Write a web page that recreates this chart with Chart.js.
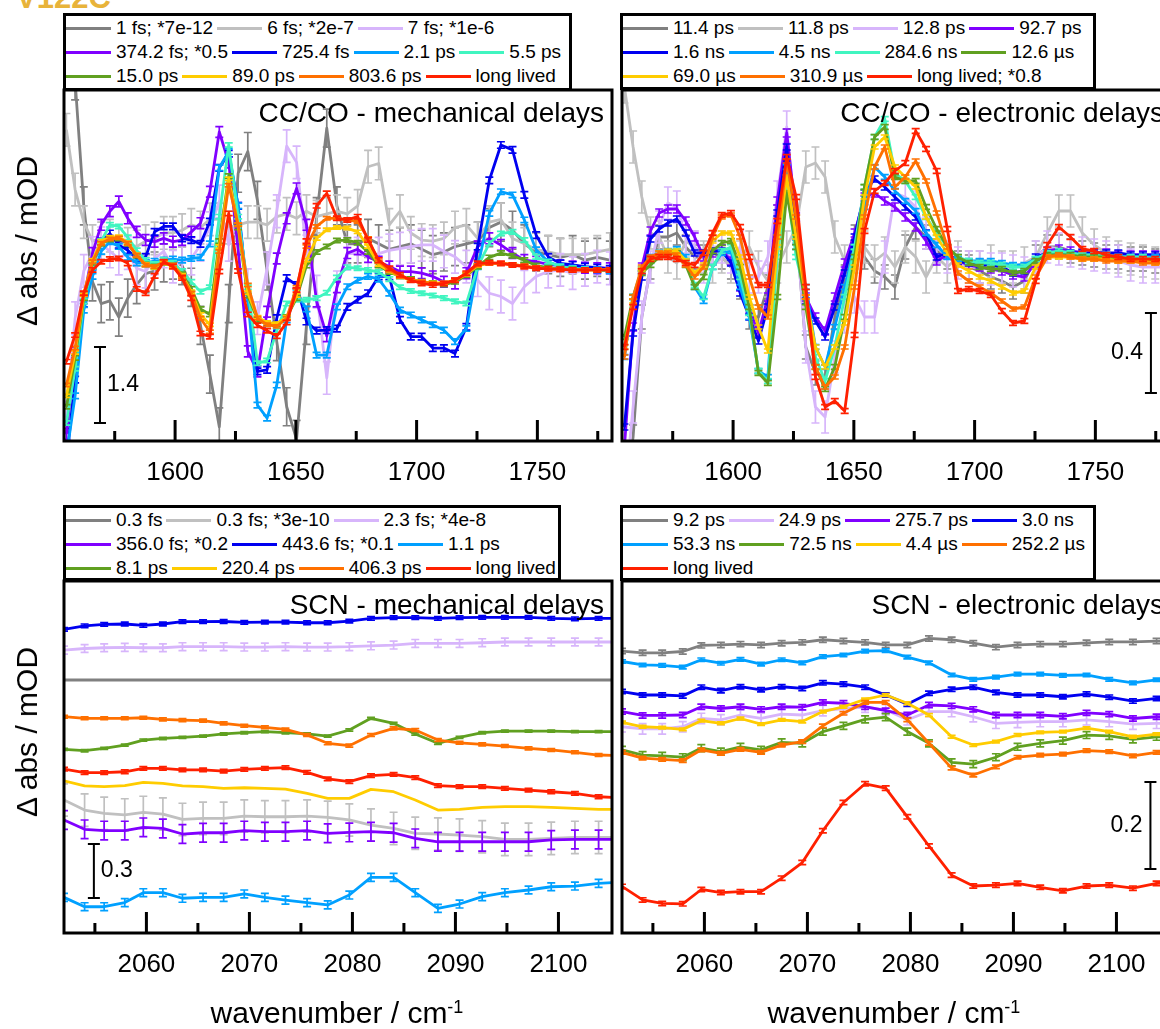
<!DOCTYPE html>
<html>
<head>
<meta charset="utf-8">
<title>V122C transient IR spectra</title>
<script src="https://cdn.jsdelivr.net/npm/chart.js@4.4.1/dist/chart.umd.min.js"></script>
<style>
  html, body { margin: 0; padding: 0; background: #fff; }
  body { width: 1160px; height: 1029px; overflow: hidden; position: relative;
         font-family: "Liberation Sans", Arial, sans-serif; color: #000; }
  canvas.panel { position: absolute; }
  .legend { position: absolute; box-sizing: border-box; border: 3px solid #000; background: #fff;
            font-size: 19px; line-height: 24px; z-index: 2; }
  .legend .row { display: flex; white-space: nowrap; height: 24px; }
  .legend .item { display: flex; align-items: center; margin-right: 4px; }
  .legend .swatch { width: 45px; height: 3px; margin-right: 5px; }
  .ytitle { position: absolute; font-size: 30px; white-space: nowrap; line-height: 34px;
            transform: translate(-50%, -50%) rotate(-90deg); }
  .xtitle { position: absolute; font-size: 30px; white-space: nowrap; line-height: 34px;
            transform: translateX(-50%); }
  .xtitle sup { font-size: 18px; vertical-align: 10px; line-height: 0; }
  .tag { position: absolute; left: 16px; top: -18px; font-size: 31px; line-height: 31px;
         font-weight: bold; color: #e8b33a; }
</style>
</head>
<body>
<div class="tag">V122C</div>

<canvas id="ccMech"  class="panel" width="620" height="500" style="left:0;top:0"></canvas>
<canvas id="ccElec"  class="panel" width="620" height="500" style="left:558px;top:0"></canvas>
<canvas id="scnMech" class="panel" width="620" height="539" style="left:0;top:490px"></canvas>
<canvas id="scnElec" class="panel" width="620" height="539" style="left:558px;top:490px"></canvas>

<div class="legend" id="legCcMech"  style="left:63px;top:13px;width:509px;height:78px"></div>
<div class="legend" id="legCcElec"  style="left:620px;top:13px;width:476px;height:77px"></div>
<div class="legend" id="legScnMech" style="left:63px;top:505px;width:498px;height:76px"></div>
<div class="legend" id="legScnElec" style="left:620px;top:505px;width:476px;height:76px"></div>

<div class="ytitle" style="left:27px;top:241px">&Delta; abs / mOD</div>
<div class="ytitle" style="left:27px;top:732px">&Delta; abs / mOD</div>
<div class="xtitle" style="left:337px;top:996px">wavenumber / cm<sup>-1</sup></div>
<div class="xtitle" style="left:894px;top:996px">wavenumber / cm<sup>-1</sup></div>

<script>
// ---------- colours ----------
const GRAY = '#808080', SILVER = '#c0c0c0', LAVENDER = '#d7b5fb', VIOLET = '#8000ff',
      BLUE = '#0000f0', SKY = '#00a0ff', AQUA = '#40f5c0', GREEN = '#60a020',
      GOLD = '#ffcc00', ORANGE = '#ff7000', RED = '#ff2000';
const FONT = '"Liberation Sans", Arial, sans-serif';

// ---------- wavenumber grids (cm-1) ----------
const ccWavenumbers = [1555.0, 1558.6, 1562.2, 1565.8, 1569.4, 1573.0, 1576.7, 1580.4, 1584.1, 1587.8,
  1591.5, 1595.3, 1599.1, 1602.9, 1606.7, 1610.5, 1614.4, 1618.3, 1622.2, 1626.1,
  1630.1, 1634.1, 1638.1, 1642.1, 1646.2, 1650.3, 1654.4, 1658.6, 1662.8, 1667.0,
  1671.3, 1675.6, 1679.9, 1684.3, 1688.7, 1693.1, 1697.6, 1702.1, 1706.7, 1711.3,
  1715.9, 1720.6, 1725.3, 1730.1, 1734.9, 1739.7, 1744.6, 1749.5, 1754.5, 1759.5,
  1764.6, 1769.7, 1774.8, 1780.0];
const scnWavenumbers = [2052.0, 2054.0, 2055.9, 2057.9, 2059.7, 2061.6, 2063.5, 2065.5, 2067.5, 2069.5,
  2071.5, 2073.5, 2075.6, 2077.6, 2079.7, 2081.8, 2084.0, 2086.1, 2088.3, 2090.4,
  2092.6, 2094.8, 2097.1, 2099.3, 2101.6, 2103.9, 2106.2];

// ---------- axis ticks ----------
const ccMajorTicks = [1600, 1650, 1700, 1750];
const ccMinorTicks = [1575, 1625, 1675, 1725, 1775];
const scnMajorTicks = [2060, 2070, 2080, 2090, 2100];
const scnMinorTicks = [2055, 2065, 2075, 2085, 2095];

// ---------- CC/CO, mechanical delays (mOD) ----------
const ccMech_1fs = [6.0, 3.5, 1.2, -0.2, -0.6, -0.55, -0.85, -0.5, -0.25, -0.05, 0.0, 0.15, 0.2, 0.1, -0.3, -1.0, -1.9, -2.87, -0.6, 1.8, 2.2, 1.3, 0.0, -1.3, -2.5, -3.1, -1.0, 1.0, 2.63, 1.2, 0.5, 0.5, 0.6, 0.5, 0.4, 0.45, 0.5, 0.4, 0.3, 0.35, 0.45, 0.5, 0.55, 0.8, 0.9, 0.75, 0.5, 0.35, 0.3, 0.25, 0.3, 0.2, 0.25, 0.2];
const ccMech_6fs = [2.6, 1.5, 0.9, 0.55, 0.6, 0.65, 0.55, 0.5, 0.45, 0.55, 0.6, 0.7, 0.7, 0.75, 0.85, 0.8, 0.95, 0.95, 0.8, 0.85, 0.9, 0.9, 0.85, 1.0, 1.05, 0.97, 1.1, 1.0, 1.05, 1.1, 1.05, 1.2, 1.92, 1.98, 0.85, 1.1, 0.7, 0.57, 0.55, 0.6, 0.8, 0.85, 0.6, 0.9, 0.95, 0.6, 0.5, 0.4, 0.35, 0.3, 0.3, 0.3, 0.35, 0.4];
const ccMech_7fs = [-2.7, -0.87, 0.0, 0.33, 0.51, 0.36, 0.23, 0.33, 0.05, -0.01, 0.23, 0.36, 0.08, 0.17, 0.23, 0.48, 0.79, 1.28, 0.48, 0.97, -0.26, -0.87, 0.05, 1.1, 2.3, 2.0, 0.36, -0.38, -1.97, -0.3, 0.32, 0.32, 0.26, 0.32, 0.38, 0.41, 0.45, 0.48, 0.48, 0.36, 0.26, 0.08, -0.17, -0.41, -0.47, -0.6, -0.29, -0.1, -0.01, 0.02, -0.04, 0.02, 0.08, 0.05];
const ccMech_374fs = [-3.0, -1.5, -0.5, 0.33, 0.85, 1.1, 1.28, 0.97, 0.72, 0.57, 0.54, 0.6, 0.54, 0.57, 0.72, 0.88, 1.46, 2.56, 2.0, 0.4, -1.48, -1.85, -0.75, 0.23, 0.97, 1.52, 0.85, -0.56, -1.2, -0.3, 0.33, 0.4, 0.26, 0.17, 0.08, -0.01, -0.01, -0.04, -0.1, -0.2, -0.23, -0.04, 0.45, 0.6, 0.48, 0.33, 0.2, 0.17, 0.12, 0.1, 0.08, 0.06, 0.05, 0.05];
const ccMech_725fs = [-3.5, -2.0, -0.6, 0.08, 0.54, 0.69, 0.48, 0.38, 0.23, 0.26, 0.72, 0.82, 0.82, 0.6, 0.57, 0.5, 0.91, 1.9, 2.16, 1.2, -0.5, -1.85, -1.82, -0.87, -0.13, -0.26, -0.93, -1.1, -1.09, -1.06, -0.66, -0.53, -0.41, -0.1, -0.1, -0.9, -1.21, -1.21, -1.42, -1.42, -1.52, -1.03, 0.45, 1.67, 2.32, 2.23, 1.4, 0.66, 0.26, 0.14, 0.11, 0.08, 0.06, 0.04];
const ccMech_2ps = [-3.4, -2.3, -0.72, -0.1, 0.36, 0.54, 0.45, 0.25, 0.15, 0.15, 0.18, 0.2, 0.22, 0.2, 0.23, 0.25, 0.5, 1.9, 2.2, 1.2, -0.5, -2.47, -2.71, -2.1, -0.9, -0.4, -0.7, -1.55, -1.55, -0.66, -0.29, -0.17, -0.1, -0.15, -0.41, -0.72, -0.81, -0.9, -0.99, -1.09, -1.3, -1.06, 0.08, 1.06, 1.46, 1.4, 0.94, 0.39, 0.17, 0.08, 0.05, 0.03, 0.02, 0.0];
const ccMech_5ps = [-2.8, -1.8, -0.56, 0.08, 0.55, 0.85, 0.82, 0.62, 0.38, 0.2, 0.13, 0.2, 0.15, 0.0, -0.2, -0.38, -0.3, 1.0, 2.32, 1.0, -0.3, -1.7, -1.65, -1.1, -0.6, -0.53, -0.53, -0.5, -0.4, -0.12, 0.07, 0.05, 0.02, -0.02, -0.15, -0.3, -0.37, -0.41, -0.45, -0.5, -0.56, -0.6, 0.08, 0.51, 0.69, 0.72, 0.57, 0.26, 0.17, 0.08, 0.05, 0.03, 0.02, 0.02];
const ccMech_15ps = [-2.5, -1.6, -0.5, 0.15, 0.5, 0.58, 0.6, 0.5, 0.28, 0.12, 0.08, 0.15, 0.1, -0.06, -0.33, -0.7, -0.8, 0.55, 1.75, 0.8, -0.45, -0.9, -0.98, -0.98, -0.85, -0.5, 0.1, 0.35, 0.45, 0.56, 0.57, 0.52, 0.35, 0.1, -0.02, -0.1, -0.15, -0.2, -0.22, -0.25, -0.2, -0.08, 0.08, 0.25, 0.33, 0.28, 0.2, 0.1, 0.06, 0.04, 0.03, 0.02, 0.02, 0.02];
const ccMech_89ps = [-2.3, -1.5, -0.44, 0.2, 0.55, 0.62, 0.63, 0.52, 0.3, 0.12, 0.07, 0.15, 0.1, -0.08, -0.38, -0.8, -0.99, 0.45, 1.7, 0.85, -0.4, -0.85, -0.95, -0.97, -0.85, -0.45, 0.2, 0.6, 0.76, 0.8, 0.79, 0.72, 0.45, 0.12, 0.0, -0.1, -0.16, -0.2, -0.22, -0.22, -0.17, -0.06, 0.1, 0.14, 0.14, 0.12, 0.09, 0.06, 0.04, 0.03, 0.02, 0.02, 0.02, 0.02];
const ccMech_804ps = [-2.1, -1.42, -0.41, 0.17, 0.51, 0.59, 0.61, 0.51, 0.29, 0.11, 0.08, 0.17, 0.11, -0.1, -0.41, -0.87, -1.12, 0.36, 1.58, 0.85, -0.26, -0.87, -0.99, -1.02, -0.87, -0.3, 0.45, 0.82, 0.97, 0.97, 0.94, 0.91, 0.6, 0.17, 0.02, -0.1, -0.17, -0.2, -0.23, -0.23, -0.17, -0.05, 0.11, 0.15, 0.14, 0.12, 0.09, 0.06, 0.04, 0.03, 0.02, 0.02, 0.02, 0.02];
const ccMech_long = [-1.67, -1.18, -0.41, 0.02, 0.17, 0.22, 0.23, 0.14, -0.33, -0.41, -0.09, 0.17, 0.08, -0.13, -0.5, -1.15, -1.21, -0.01, 1.06, 0.0, -0.8, -1.0, -1.1, -1.2, -0.95, -0.35, 0.55, 1.2, 1.43, 0.97, 0.94, 1.0, 0.57, 0.2, 0.05, -0.07, -0.17, -0.23, -0.26, -0.23, -0.17, -0.04, 0.14, 0.15, 0.14, 0.11, 0.08, 0.05, 0.04, 0.03, 0.02, 0.02, 0.02, 0.02];

// ---------- CC/CO, electronic delays (mOD) ----------
const ccElec_11_4ps = [-1.2, -0.9, -0.3, -0.05, 0.1, 0.1, 0.12, 0.05, 0.0, 0.0, 0.02, 0.0, -0.05, -0.15, -0.3, -0.3, -0.15, 0.2, 0.58, 0.15, -0.45, -0.58, -0.6, -0.3, -0.1, 0.1, 0.0, -0.07, -0.1, -0.15, 0.05, 0.15, 0.1, 0.03, 0.0, -0.03, -0.05, -0.07, -0.1, -0.12, -0.15, -0.12, 0.0, 0.05, 0.05, 0.03, 0.02, 0.01, 0.0, 0.0, -0.01, -0.01, -0.02, -0.02];
const ccElec_11_8ps = [0.85, 0.55, 0.3, 0.12, 0.1, 0.0, -0.03, 0.08, 0.05, 0.0, -0.05, 0.0, -0.05, 0.0, 0.05, -0.05, -0.12, -0.05, 0.05, 0.15, 0.45, 0.47, 0.4, 0.1, -0.02, 0.0, 0.05, -0.02, 0.02, -0.05, 0.05, 0.0, -0.1, 0.0, -0.05, 0.0, -0.05, -0.05, -0.02, -0.05, -0.05, -0.03, 0.0, 0.12, 0.23, 0.23, 0.12, 0.06, 0.02, 0.0, -0.01, -0.02, -0.03, -0.03];
const ccElec_12_8ps = [-1.2, -0.75, -0.3, -0.05, 0.15, 0.27, 0.25, 0.1, 0.05, -0.05, 0.05, 0.05, 0.0, 0.05, -0.1, -0.1, 0.0, 0.3, 0.65, 0.15, -0.45, -0.75, -0.8, -0.5, -0.3, -0.2, -0.3, -0.3, 0.0, 0.32, 0.3, 0.25, 0.12, 0.05, 0.0, -0.03, -0.05, -0.05, -0.06, -0.06, -0.07, -0.08, 0.0, 0.05, 0.04, 0.03, 0.02, 0.01, 0.0, -0.02, -0.04, -0.05, -0.05, -0.05];
const ccElec_92ps = [-0.95, -0.35, -0.05, 0.13, 0.22, 0.24, 0.24, 0.18, 0.1, 0.0, 0.02, 0.04, -0.02, -0.15, -0.26, -0.38, -0.2, 0.28, 0.62, 0.2, -0.2, -0.3, -0.37, -0.2, -0.03, 0.12, 0.3, 0.32, 0.28, 0.25, 0.2, 0.15, 0.08, -0.02, 0.01, -0.02, -0.04, -0.05, -0.06, -0.07, -0.09, -0.1, -0.03, 0.03, 0.04, 0.03, 0.02, 0.02, 0.02, 0.01, 0.01, 0.01, 0.01, 0.01];
const ccElec_1_6ns = [-0.85, -0.38, -0.1, 0.09, 0.14, 0.17, 0.19, 0.12, 0.02, 0.02, 0.03, 0.03, -0.03, -0.18, -0.3, -0.42, -0.25, 0.22, 0.55, 0.1, -0.22, -0.32, -0.4, -0.25, -0.08, 0.1, 0.32, 0.39, 0.35, 0.3, 0.25, 0.2, 0.12, 0.0, 0.02, -0.02, -0.03, -0.04, -0.04, -0.05, -0.08, -0.07, 0.0, 0.02, 0.02, 0.02, 0.02, 0.02, 0.02, 0.02, 0.01, 0.01, 0.01, 0.01];
const ccElec_4_5ns = [-0.5, -0.2, -0.06, 0.0, 0.02, 0.03, 0.04, 0.0, -0.15, -0.22, -0.05, 0.02, 0.03, -0.15, -0.3, -0.57, -0.6, 0.1, 0.45, 0.05, -0.15, -0.45, -0.55, -0.35, -0.15, 0.05, 0.25, 0.45, 0.4, 0.33, 0.28, 0.23, 0.12, 0.06, 0.0, -0.01, -0.02, -0.02, -0.02, -0.03, -0.04, -0.04, -0.01, 0.02, 0.02, 0.02, 0.01, 0.01, 0.01, 0.0, 0.0, 0.0, 0.0, 0.0];
const ccElec_285ns = [-0.45, -0.2, -0.07, -0.02, 0.02, 0.02, 0.03, -0.02, -0.14, -0.2, -0.05, 0.03, 0.05, -0.1, -0.28, -0.57, -0.62, 0.0, 0.36, 0.0, -0.2, -0.5, -0.62, -0.45, -0.2, 0.05, 0.35, 0.6, 0.69, 0.42, 0.38, 0.3, 0.2, 0.12, 0.05, 0.0, -0.02, -0.03, -0.03, -0.04, -0.05, -0.05, -0.01, 0.02, 0.03, 0.02, 0.01, 0.01, 0.01, 0.0, 0.0, 0.0, -0.01, -0.01];
const ccElec_12_6us = [-0.4, -0.2, -0.08, -0.04, 0.0, 0.02, 0.02, -0.04, -0.15, -0.1, 0.03, 0.07, 0.08, -0.05, -0.25, -0.58, -0.63, -0.2, 0.32, 0.05, -0.25, -0.55, -0.66, -0.55, -0.3, 0.0, 0.35, 0.6, 0.65, 0.4, 0.38, 0.38, 0.25, 0.14, 0.05, 0.0, -0.03, -0.05, -0.06, -0.06, -0.08, -0.07, -0.02, 0.01, 0.01, 0.01, 0.0, 0.0, 0.0, -0.01, -0.01, -0.02, -0.02, -0.02];
const ccElec_69us = [-0.45, -0.22, -0.06, -0.01, 0.02, 0.03, 0.03, -0.02, -0.08, -0.04, 0.08, 0.12, 0.12, 0.0, -0.2, -0.35, -0.47, 0.05, 0.4, 0.1, -0.2, -0.45, -0.55, -0.45, -0.33, -0.05, 0.3, 0.55, 0.6, 0.45, 0.4, 0.35, 0.2, 0.1, 0.02, -0.04, -0.07, -0.1, -0.12, -0.15, -0.18, -0.17, -0.05, 0.0, 0.0, 0.0, -0.01, -0.01, -0.01, -0.02, -0.02, -0.02, -0.03, -0.03];
const ccElec_311us = [-0.5, -0.2, -0.05, 0.0, 0.02, 0.02, 0.01, -0.04, -0.1, -0.05, 0.1, 0.2, 0.21, 0.1, -0.1, -0.25, -0.3, 0.1, 0.48, 0.2, -0.2, -0.55, -0.65, -0.6, -0.45, -0.15, 0.2, 0.45, 0.55, 0.35, 0.4, 0.48, 0.38, 0.22, 0.05, -0.08, -0.12, -0.15, -0.18, -0.22, -0.26, -0.25, -0.1, 0.0, 0.01, 0.0, -0.01, -0.01, -0.02, -0.02, -0.02, -0.03, -0.03, -0.03];
const ccElec_long = [-0.45, -0.25, -0.07, -0.01, 0.0, 0.0, -0.01, -0.03, -0.04, 0.02, 0.12, 0.21, 0.22, 0.15, 0.0, -0.14, -0.14, 0.18, 0.5, 0.3, -0.15, -0.6, -0.75, -0.72, -0.77, -0.39, 0.13, 0.33, 0.37, 0.43, 0.47, 0.63, 0.54, 0.43, 0.14, -0.17, -0.16, -0.17, -0.19, -0.27, -0.33, -0.32, -0.12, 0.06, 0.15, 0.1, 0.04, 0.03, 0.01, 0.0, -0.01, -0.01, -0.01, -0.02];

// ---------- SCN, mechanical delays (mOD, offset for display) ----------
const scnMech_0_3fs = [1.406, 1.406, 1.406, 1.406, 1.406, 1.406, 1.406, 1.406, 1.406, 1.406, 1.406, 1.406, 1.406, 1.406, 1.406, 1.406, 1.406, 1.406, 1.406, 1.406, 1.406, 1.406, 1.406, 1.406, 1.406, 1.406, 1.406];
const scnMech_0_3fsB = [0.739, 0.683, 0.665, 0.656, 0.670, 0.661, 0.631, 0.637, 0.637, 0.650, 0.646, 0.646, 0.650, 0.643, 0.628, 0.600, 0.581, 0.554, 0.550, 0.544, 0.535, 0.520, 0.520, 0.526, 0.531, 0.531, 0.531];
const scnMech_2_3fs = [1.572, 1.581, 1.585, 1.587, 1.585, 1.585, 1.591, 1.591, 1.591, 1.589, 1.589, 1.591, 1.589, 1.589, 1.591, 1.596, 1.600, 1.609, 1.609, 1.609, 1.613, 1.617, 1.617, 1.617, 1.617, 1.617, 1.617];
const scnMech_356fs = [0.628, 0.576, 0.569, 0.569, 0.587, 0.581, 0.550, 0.557, 0.557, 0.569, 0.563, 0.563, 0.569, 0.554, 0.559, 0.563, 0.557, 0.526, 0.507, 0.507, 0.507, 0.507, 0.507, 0.517, 0.520, 0.520, 0.520];
const scnMech_444fs = [1.687, 1.707, 1.715, 1.717, 1.709, 1.717, 1.730, 1.730, 1.731, 1.726, 1.728, 1.728, 1.724, 1.724, 1.733, 1.748, 1.752, 1.752, 1.748, 1.752, 1.754, 1.754, 1.754, 1.748, 1.746, 1.748, 1.748];
const scnMech_1_1ps = [0.198, 0.146, 0.146, 0.169, 0.224, 0.224, 0.193, 0.198, 0.198, 0.217, 0.198, 0.183, 0.169, 0.156, 0.211, 0.309, 0.309, 0.224, 0.137, 0.161, 0.202, 0.224, 0.239, 0.257, 0.261, 0.276, 0.282];
const scnMech_8_1ps = [1.020, 1.013, 1.026, 1.044, 1.072, 1.081, 1.087, 1.094, 1.106, 1.113, 1.119, 1.113, 1.106, 1.094, 1.128, 1.193, 1.165, 1.106, 1.054, 1.087, 1.113, 1.122, 1.122, 1.122, 1.119, 1.119, 1.119];
const scnMech_220ps = [0.846, 0.817, 0.813, 0.819, 0.837, 0.831, 0.817, 0.813, 0.804, 0.807, 0.804, 0.800, 0.776, 0.748, 0.748, 0.798, 0.785, 0.739, 0.683, 0.687, 0.698, 0.702, 0.702, 0.698, 0.693, 0.687, 0.687];
const scnMech_406ps = [1.202, 1.193, 1.193, 1.193, 1.196, 1.187, 1.183, 1.180, 1.165, 1.152, 1.143, 1.131, 1.100, 1.054, 1.041, 1.100, 1.137, 1.128, 1.072, 1.057, 1.048, 1.039, 1.026, 1.017, 1.004, 0.989, 0.985];
const scnMech_long = [0.911, 0.891, 0.891, 0.896, 0.915, 0.915, 0.906, 0.906, 0.900, 0.909, 0.915, 0.919, 0.893, 0.856, 0.841, 0.874, 0.881, 0.863, 0.819, 0.813, 0.813, 0.804, 0.794, 0.785, 0.776, 0.757, 0.752];

// ---------- SCN, electronic delays (mOD, offset for display) ----------
const scnElec_9_2ps = [0.648, 0.644, 0.644, 0.647, 0.661, 0.662, 0.664, 0.662, 0.666, 0.668, 0.674, 0.671, 0.668, 0.662, 0.662, 0.677, 0.674, 0.666, 0.657, 0.662, 0.664, 0.664, 0.667, 0.669, 0.669, 0.671, 0.671];
const scnElec_24_9ps = [0.474, 0.469, 0.469, 0.474, 0.493, 0.490, 0.501, 0.493, 0.503, 0.501, 0.511, 0.516, 0.519, 0.513, 0.490, 0.509, 0.509, 0.497, 0.482, 0.484, 0.486, 0.486, 0.490, 0.486, 0.480, 0.482, 0.482];
const scnElec_276ps = [0.509, 0.500, 0.500, 0.501, 0.520, 0.516, 0.520, 0.514, 0.520, 0.519, 0.530, 0.528, 0.520, 0.511, 0.501, 0.524, 0.522, 0.514, 0.501, 0.501, 0.501, 0.498, 0.506, 0.503, 0.493, 0.497, 0.497];
const scnElec_3_0ns = [0.555, 0.547, 0.547, 0.545, 0.565, 0.557, 0.566, 0.559, 0.566, 0.562, 0.575, 0.572, 0.565, 0.547, 0.526, 0.551, 0.560, 0.565, 0.553, 0.547, 0.547, 0.543, 0.549, 0.542, 0.533, 0.539, 0.539];
const scnElec_53ns = [0.624, 0.616, 0.615, 0.611, 0.628, 0.620, 0.629, 0.618, 0.628, 0.621, 0.635, 0.639, 0.648, 0.649, 0.634, 0.621, 0.593, 0.583, 0.588, 0.595, 0.595, 0.592, 0.593, 0.583, 0.575, 0.582, 0.582];
const scnElec_72ns = [0.421, 0.409, 0.407, 0.404, 0.425, 0.417, 0.428, 0.421, 0.438, 0.436, 0.463, 0.476, 0.491, 0.496, 0.463, 0.436, 0.392, 0.388, 0.404, 0.428, 0.436, 0.442, 0.455, 0.453, 0.445, 0.451, 0.451];
const scnElec_4_4us = [0.484, 0.474, 0.472, 0.468, 0.488, 0.482, 0.493, 0.480, 0.490, 0.486, 0.509, 0.520, 0.537, 0.547, 0.528, 0.501, 0.451, 0.432, 0.440, 0.455, 0.461, 0.463, 0.471, 0.463, 0.451, 0.457, 0.457];
const scnElec_252us = [0.415, 0.402, 0.399, 0.396, 0.421, 0.413, 0.422, 0.415, 0.432, 0.440, 0.476, 0.505, 0.530, 0.530, 0.490, 0.436, 0.379, 0.363, 0.382, 0.404, 0.409, 0.411, 0.419, 0.417, 0.407, 0.415, 0.415];
const scnElec_long = [0.107, 0.076, 0.068, 0.067, 0.100, 0.093, 0.095, 0.095, 0.126, 0.162, 0.235, 0.300, 0.343, 0.333, 0.267, 0.200, 0.133, 0.108, 0.110, 0.114, 0.105, 0.097, 0.108, 0.110, 0.103, 0.114, 0.116];

// ---------- series tables: label, colour, values, error half-width ----------
const ccMechSeries = [
  { label: '1 fs; *7e-12',   color: GRAY,     values: ccMech_1fs,    err: 0.35 },
  { label: '6 fs; *2e-7',    color: SILVER,   values: ccMech_6fs,    err: 0.3 },
  { label: '7 fs; *1e-6',    color: LAVENDER, values: ccMech_7fs,    err: 0.3 },
  { label: '374.2 fs; *0.5', color: VIOLET,   values: ccMech_374fs,  err: 0.1 },
  { label: '725.4 fs',       color: BLUE,     values: ccMech_725fs,  err: 0.06 },
  { label: '2.1 ps',         color: SKY,      values: ccMech_2ps,    err: 0.05 },
  { label: '5.5 ps',         color: AQUA,     values: ccMech_5ps,    err: 0.04 },
  { label: '15.0 ps',        color: GREEN,    values: ccMech_15ps,   err: 0.04 },
  { label: '89.0 ps',        color: GOLD,     values: ccMech_89ps,   err: 0.03 },
  { label: '803.6 ps',       color: ORANGE,   values: ccMech_804ps,  err: 0.03 },
  { label: 'long lived',     color: RED,      values: ccMech_long,   err: 0.04 }
];
const ccElecSeries = [
  { label: '11.4 ps',          color: GRAY,     values: ccElec_11_4ps, err: 0.06 },
  { label: '11.8 ps',          color: SILVER,   values: ccElec_11_8ps, err: 0.08 },
  { label: '12.8 ps',          color: LAVENDER, values: ccElec_12_8ps, err: 0.08 },
  { label: '92.7 ps',          color: VIOLET,   values: ccElec_92ps,   err: 0.02 },
  { label: '1.6 ns',           color: BLUE,     values: ccElec_1_6ns,  err: 0.015 },
  { label: '4.5 ns',           color: SKY,      values: ccElec_4_5ns,  err: 0.012 },
  { label: '284.6 ns',         color: AQUA,     values: ccElec_285ns,  err: 0.012 },
  { label: '12.6 \u00b5s',     color: GREEN,    values: ccElec_12_6us, err: 0.012 },
  { label: '69.0 \u00b5s',     color: GOLD,     values: ccElec_69us,   err: 0.01 },
  { label: '310.9 \u00b5s',    color: ORANGE,   values: ccElec_311us,  err: 0.01 },
  { label: 'long lived; *0.8', color: RED,      values: ccElec_long,   err: 0.012 }
];
const scnMechSeries = [
  { label: '0.3 fs',          color: GRAY,     values: scnMech_0_3fs,  err: 0 },
  { label: '0.3 fs; *3e-10',  color: SILVER,   values: scnMech_0_3fsB, err: 0.09 },
  { label: '2.3 fs; *4e-8',   color: LAVENDER, values: scnMech_2_3fs,  err: 0.022 },
  { label: '356.0 fs; *0.2',  color: VIOLET,   values: scnMech_356fs,  err: 0.052 },
  { label: '443.6 fs; *0.1',  color: BLUE,     values: scnMech_444fs,  err: 0.01 },
  { label: '1.1 ps',          color: SKY,      values: scnMech_1_1ps,  err: 0.022 },
  { label: '8.1 ps',          color: GREEN,    values: scnMech_8_1ps,  err: 0.006 },
  { label: '220.4 ps',        color: GOLD,     values: scnMech_220ps,  err: 0 },
  { label: '406.3 ps',        color: ORANGE,   values: scnMech_406ps,  err: 0.008 },
  { label: 'long lived',      color: RED,      values: scnMech_long,   err: 0.01 }
];
const scnElecSeries = [
  { label: '9.2 ps',         color: GRAY,     values: scnElec_9_2ps,  err: 0.006 },
  { label: '24.9 ps',        color: LAVENDER, values: scnElec_24_9ps, err: 0.012 },
  { label: '275.7 ps',       color: VIOLET,   values: scnElec_276ps,  err: 0.006 },
  { label: '3.0 ns',         color: BLUE,     values: scnElec_3_0ns,  err: 0.005 },
  { label: '53.3 ns',        color: SKY,      values: scnElec_53ns,   err: 0.004 },
  { label: '72.5 ns',        color: GREEN,    values: scnElec_72ns,   err: 0.008 },
  { label: '4.4 \u00b5s',    color: GOLD,     values: scnElec_4_4us,  err: 0.003 },
  { label: '252.2 \u00b5s',  color: ORANGE,   values: scnElec_252us,  err: 0.004 },
  { label: 'long lived',     color: RED,      values: scnElec_long,   err: 0.005 }
];

// ---------- plugin: error bars, frame, inward ticks, title, scale bar ----------
const panelDecor = {
  id: 'panelDecor',
  afterDatasetDraw(chart, args) {
    const ds = chart.data.datasets[args.index];
    const err = ds.errorSize;
    if (!err) return;
    const { ctx, chartArea: a, scales: { x, y } } = chart;
    ctx.save();
    ctx.beginPath();
    ctx.rect(a.left, a.top, a.right - a.left, a.bottom - a.top);
    ctx.clip();
    ctx.strokeStyle = ds.borderColor;
    ctx.lineWidth = 1.7;
    ctx.beginPath();
    for (const p of ds.data) {
      const px = x.getPixelForValue(p.x);
      const y1 = y.getPixelForValue(p.y + err);
      const y2 = y.getPixelForValue(p.y - err);
      ctx.moveTo(px, y1); ctx.lineTo(px, y2);
      ctx.moveTo(px - 4, y1); ctx.lineTo(px + 4, y1);
      ctx.moveTo(px - 4, y2); ctx.lineTo(px + 4, y2);
    }
    ctx.stroke();
    ctx.restore();
  },
  afterDraw(chart, args, opts) {
    const { ctx, chartArea: a, scales: { x, y } } = chart;
    ctx.save();
    ctx.strokeStyle = '#000';
    ctx.fillStyle = '#000';
    // frame
    ctx.lineWidth = 3;
    ctx.strokeRect(a.left, a.top, a.right - a.left, a.bottom - a.top);
    // inward ticks on the wavenumber axis
    ctx.beginPath();
    for (const v of opts.major) { const px = x.getPixelForValue(v); ctx.moveTo(px, a.bottom); ctx.lineTo(px, a.bottom - 21); }
    for (const v of opts.minor) { const px = x.getPixelForValue(v); ctx.moveTo(px, a.bottom); ctx.lineTo(px, a.bottom - 10); }
    ctx.stroke();
    // panel title
    ctx.font = '28px ' + FONT;
    ctx.textAlign = 'right';
    ctx.textBaseline = 'alphabetic';
    ctx.fillText(opts.title, a.right - opts.titleInset, a.top + opts.titleDrop);
    // scale bar
    const b = opts.bar;
    const bx = x.getPixelForValue(b.at);
    const by1 = y.getPixelForValue(b.from);
    const by2 = y.getPixelForValue(b.from + b.size);
    ctx.lineWidth = 2;
    ctx.beginPath();
    ctx.moveTo(bx, by1); ctx.lineTo(bx, by2);
    ctx.moveTo(bx - 6, by1); ctx.lineTo(bx + 6, by1);
    ctx.moveTo(bx - 6, by2); ctx.lineTo(bx + 6, by2);
    ctx.stroke();
    ctx.font = '23px ' + FONT;
    ctx.textBaseline = 'middle';
    ctx.textAlign = b.side === 'right' ? 'left' : 'right';
    ctx.fillText(String(b.size), b.side === 'right' ? bx + 7 : bx - 8, (by1 + by2) / 2);
    ctx.restore();
  }
};

Chart.defaults.font.family = FONT;

function makePanel(id, cfg) {
  const n = cfg.series.length;
  return new Chart(document.getElementById(id), {
    type: 'line',
    data: {
      datasets: cfg.series.map((s, i) => ({
        label: s.label,
        data: cfg.x.map((xv, j) => ({ x: xv, y: s.values[j] })),
        borderColor: s.color,
        backgroundColor: s.color,
        borderWidth: 2.8,
        borderJoinStyle: 'round',
        pointRadius: 0,
        pointHoverRadius: 0,
        tension: 0,
        fill: false,
        errorSize: s.err,
        order: n - 1 - i
      }))
    },
    options: {
      responsive: false,
      animation: false,
      devicePixelRatio: 1,
      events: [],
      layout: { padding: cfg.padding },
      plugins: { legend: { display: false }, tooltip: { enabled: false }, panelDecor: cfg.decor },
      scales: {
        x: {
          type: 'linear', min: cfg.xMin, max: cfg.xMax,
          afterBuildTicks: ax => { ax.ticks = cfg.decor.major.map(v => ({ value: v })); },
          afterFit: sc => { sc.height = cfg.axisHeight; },
          grid: { display: false, drawTicks: false },
          border: { display: false },
          ticks: { autoSkip: false, maxRotation: 0, padding: 16, color: '#000',
                   font: { family: FONT, size: 26 }, callback: v => String(v) }
        },
        y: { display: false, min: cfg.yMin, max: cfg.yMax }
      }
    },
    plugins: [panelDecor]
  });
}

const topPad = { left: 64, right: 8, top: 90, bottom: 0 };
const bottomPad = { left: 64, right: 8, top: 91, bottom: 0 };

makePanel('ccMech', {
  x: ccWavenumbers, series: ccMechSeries, xMin: 1554, xMax: 1780.9, yMin: -3.131, yMax: 3.333,
  padding: topPad, axisHeight: 59,
  decor: { major: ccMajorTicks, minor: ccMinorTicks, title: 'CC/CO - mechanical delays',
           titleInset: 8, titleDrop: 32, bar: { at: 1568.9, from: -2.8, size: 1.4, side: 'right' } }
});
makePanel('ccElec', {
  x: ccWavenumbers, series: ccElecSeries, xMin: 1554, xMax: 1780.9, yMin: -0.92, yMax: 0.835,
  padding: topPad, axisHeight: 59,
  decor: { major: ccMajorTicks, minor: ccMinorTicks, title: 'CC/CO - electronic delays',
           titleInset: 6, titleDrop: 32, bar: { at: 1773, from: -0.68, size: 0.4, side: 'left' } }
});
makePanel('scnMech', {
  x: scnWavenumbers, series: scnMechSeries, xMin: 2052, xMax: 2105.2, yMin: 0, yMax: 1.956,
  padding: bottomPad, axisHeight: 96,
  decor: { major: scnMajorTicks, minor: scnMinorTicks, title: 'SCN - mechanical delays',
           titleInset: 8, titleDrop: 33, bar: { at: 2054.9, from: 0.195, size: 0.3, side: 'right' } }
});
makePanel('scnElec', {
  x: scnWavenumbers, series: scnElecSeries, xMin: 2052, xMax: 2105.2, yMin: 0, yMax: 0.809,
  padding: bottomPad, axisHeight: 96,
  decor: { major: scnMajorTicks, minor: scnMinorTicks, title: 'SCN - electronic delays',
           titleInset: 6, titleDrop: 33, bar: { at: 2103.3, from: 0.147, size: 0.2, side: 'left' } }
});

// ---------- legends ----------
function buildLegend(id, series, rows) {
  const box = document.getElementById(id);
  let k = 0;
  for (const count of rows) {
    const row = document.createElement('div');
    row.className = 'row';
    for (let i = 0; i < count; i++, k++) {
      const s = series[k];
      const item = document.createElement('div');
      item.className = 'item';
      const sw = document.createElement('span');
      sw.className = 'swatch';
      sw.style.background = s.color;
      const tx = document.createElement('span');
      tx.textContent = s.label;
      item.appendChild(sw);
      item.appendChild(tx);
      row.appendChild(item);
    }
    box.appendChild(row);
  }
}
buildLegend('legCcMech', ccMechSeries, [3, 4, 4]);
buildLegend('legCcElec', ccElecSeries, [4, 4, 3]);
buildLegend('legScnMech', scnMechSeries, [3, 3, 4]);
buildLegend('legScnElec', scnElecSeries, [4, 4, 1]);
</script>
</body>
</html>
